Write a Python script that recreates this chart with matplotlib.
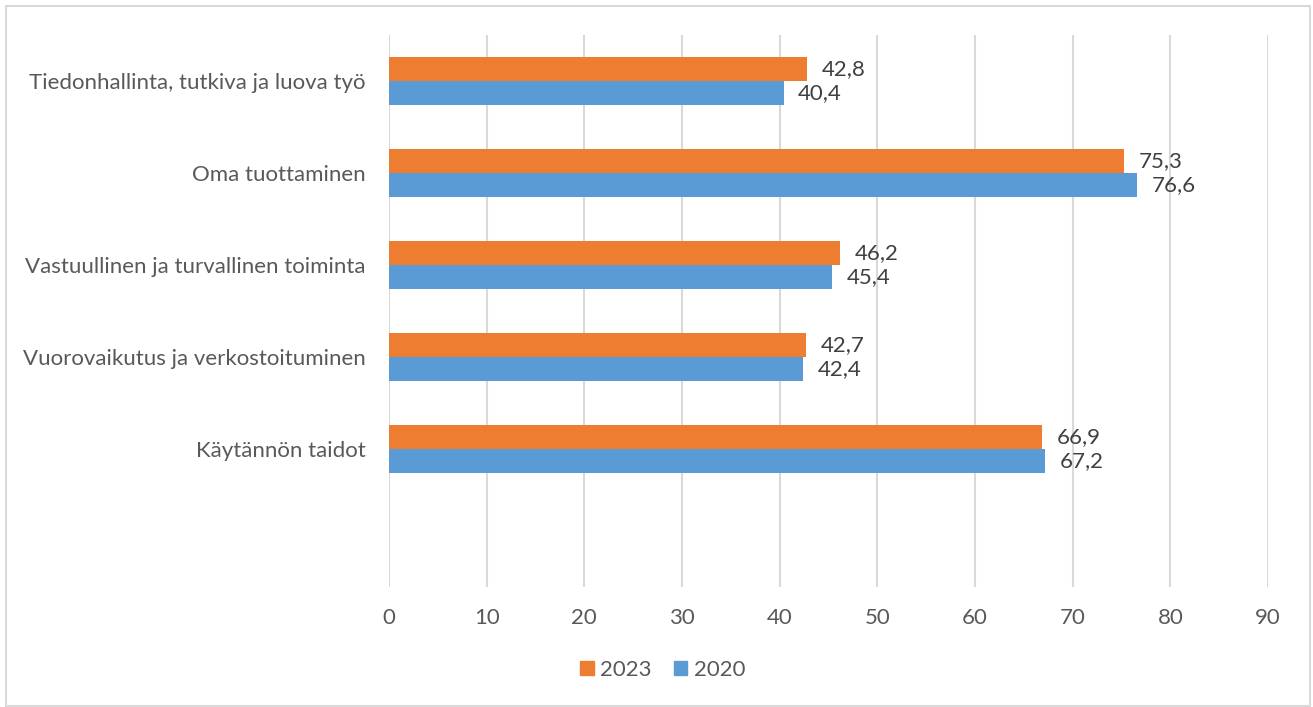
import matplotlib
matplotlib.use("Agg")
import matplotlib.pyplot as plt
from matplotlib.patches import Rectangle, Patch
import numpy as np

categories = ["Tiedonhallinta, tutkiva ja luova työ", "Oma tuottaminen",
              "Vastuullinen ja turvallinen toiminta", "Vuorovaikutus ja verkostoituminen",
              "Käytännön taidot", ""]
values_2023 = [42.8, 75.3, 46.2, 42.7, 66.9, None]
values_2020 = [40.4, 76.6, 45.4, 42.4, 67.2, None]
series_names = ["2023", "2020"]
xticks = [0, 10, 20, 30, 40, 50, 60, 70, 80, 90]

orange = "#ED7D31"
blue = "#5B9BD5"
txt = "#595959"
grid = "#D9D9D9"
fs = 16

plt.rcParams['font.family'] = ['Lato', 'DejaVu Sans']

fig = plt.figure(figsize=(13.13, 7.07), dpi=100)
ax = fig.add_axes([389/1313, 1-587/707, (1268-389)/1313, (587-35)/707])

n = len(categories)
ypos = np.arange(n)[::-1]  # top category highest
h = 0.26
for i, (a, b) in enumerate(zip(values_2023, values_2020)):
    if a is not None:
        ax.barh(ypos[i] + h/2, a, height=h, color=orange, zorder=3)
        ax.text(a + 1.5, ypos[i] + h/2, f"{a:.1f}".replace(".", ","), va="center", ha="left",
                fontsize=fs, color="#404040")
    if b is not None:
        ax.barh(ypos[i] - h/2, b, height=h, color=blue, zorder=3)
        ax.text(b + 1.5, ypos[i] - h/2, f"{b:.1f}".replace(".", ","), va="center", ha="left",
                fontsize=fs, color="#404040")

ax.set_xlim(0, 90)
ax.set_ylim(-0.5, n - 0.5)
ax.set_xticks(xticks)
ax.set_xticklabels([str(t) for t in xticks], fontsize=fs, color=txt)
ax.set_yticks(ypos)
ax.set_yticklabels(categories, fontsize=fs, color=txt)
ax.tick_params(axis="both", length=0)
ax.tick_params(axis="x", pad=15)
ax.tick_params(axis="y", pad=17)
ax.xaxis.grid(True, color=grid, linewidth=1.5, zorder=0)
for s in ax.spines.values():
    s.set_visible(False)

handles = [Patch(color=orange, label=series_names[0]), Patch(color=blue, label=series_names[1])]
fig.legend(handles=handles, loc="center", bbox_to_anchor=(663/1313, 1-670/707), ncol=2,
           frameon=False, fontsize=fs, handlelength=0.6, handleheight=0.6,
           handletextpad=0.3, columnspacing=1.0, labelcolor=txt)

fig.patches.append(Rectangle((6/1313, 0.002), 1304/1313, 1-6/707-0.002, transform=fig.transFigure,
                             fill=False, edgecolor=grid, linewidth=1.5))

fig.savefig("out.png", dpi=100, facecolor="white")
